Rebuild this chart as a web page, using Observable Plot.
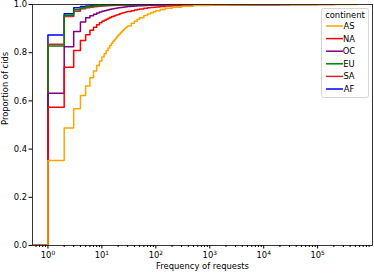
<!DOCTYPE html>
<html>
<head>
<meta charset="utf-8">
<script src="https://cdn.jsdelivr.net/npm/d3@7"></script>
<script src="https://cdn.jsdelivr.net/npm/@observablehq/plot@0.6"></script>
<style>
  html, body { margin: 0; padding: 0; background: #fff; }
  #chart { width: 374px; height: 273px; }
</style>
</head>
<body>
<div id="chart"></div>
<script>
// ---- data ----
const continents = ["AS", "NA", "OC", "EU", "SA", "AF"];
const colors = ["#ffa500", "#ff0000", "#800080", "#008000", "#d62728", "#0000ff"];
const drawOrder = ["AF", "SA", "EU", "OC", "NA", "AS"];

const freq = [1,2,3,4,5,6,7,8,9,10,11,12,13,14,15,16,17,18,19,20,21,22,23,24,25,26,27,28,29,30,
  35,40,45,50,60,70,80,90,100,120,150,200,300,500,1000,2000,5000,10000];

const ecdfAS = [.353,.488,.567,.622,.662,.696,.724,.747,.766,.782,
  .796,.809,.820,.830,.839,.847,.854,.861,.867,.873,
  .878,.883,.887,.891,.895,.899,.902,.905,.908,.911,
  .922,.931,.939,.945,.954,.961,.966,.970,.974,.979,.984,.989,.993,.996,.998,.999,.9995,.9997];
const ecdfNA = [.574,.740,.809,.851,.875,.893,.906,.916,.924,.930,
  .935,.939,.943,.946,.949,.951,.953,.955,.957,.959,
  .961,.963,.964,.965,.966,.967,.968,.969,.970,.971,
  .974,.977,.979,.981,.984,.987,.988,.989,.990,.992,.994,.995,.997,.998,.999,.9995,.9997,.9998];
const ecdfOC = [.632,.825,.888,.927,.945,.953,.960,.965,.969,.972,
  .974,.976,.978,.980,.981,.982,.983,.984,.985,.986,
  .987,.988,.988,.989,.989,.990,.990,.991,.991,.992,
  .993,.994,.995,.995,.996,.997,.997,.998,.998,.998,.999,.999,.9995,.9997,.9998,.9999,.9999,1];
const ecdfEU = [.828,.955,.978,.987,.991,.993,.994,.995,.996,.996,
  .997,.997,.997,.998,.998,.998,.998,.998,.998,.999,
  .999,.999,.999,.999,.999,.999,.999,.999,.999,.999,
  .999,.999,.9993,.9993,.9995,.9995,.9996,.9996,.9997,.9997,.9998,.9998,.9999,.9999,.9999,1,1,1];
const ecdfSA = [.835,.950,.972,.982,.986,.989,.991,.992,.993,.994,
  .994,.995,.995,.996,.996,.996,.997,.997,.997,.997,
  .997,.998,.998,.998,.998,.998,.998,.998,.998,.998,
  .999,.999,.999,.999,.9993,.9995,.9995,.9996,.9996,.9997,.9998,.9998,.9999,.9999,1,1,1,1];
const ecdfAF = [.873,.962,.986,.992,.994,.995,.996,.997,.997,.998,
  .998,.998,.998,.998,.999,.999,.999,.999,.999,.999,
  .999,.999,.999,.999,.999,.999,.999,.999,.999,.999,
  .9993,.9993,.9995,.9995,.9996,.9996,.9997,.9997,.9998,.9998,.9999,.9999,1,1,1,1,1,1];
const maxFreq = {AS: 540000, NA: 200000, OC: 30000, EU: 100000, SA: 20000, AF: 20000};
const belowMin = 0.1; // ECDF starts at 0 left of the smallest value

const xDomain = [0.517, 1.04e6];
const yTicks = [0, 0.2, 0.4, 0.6, 0.8, 1.0];
const xTicks = [1, 10, 100, 1000, 10000, 100000];
const xMinor = [];
for (let e = -1; e <= 6; e++) for (let m = 2; m <= 9; m++) {
  const v = m * Math.pow(10, e);
  if (v >= xDomain[0] && v <= xDomain[1]) xMinor.push(v);
}

// ---- build rows ----
const series = {AS: ecdfAS, NA: ecdfNA, OC: ecdfOC, EU: ecdfEU, SA: ecdfSA, AF: ecdfAF};
function rowsFor(c) {
  const r = [{x: belowMin, y: 0, c}];
  freq.forEach((f, i) => r.push({x: f, y: series[c][i], c}));
  r.push({x: maxFreq[c], y: 1, c});
  return r;
}
const colorOf = Object.fromEntries(continents.map((c, i) => [c, colors[i]]));
const expOf = d => String(Math.round(Math.log10(d)));

const FS = 8.4;
const chart = Plot.plot({
  width: 374,
  height: 273,
  marginLeft: 32,
  marginRight: 2,
  marginTop: 4,
  marginBottom: 28,
  style: {fontFamily: "DejaVu Sans", fontSize: FS + "px", color: "#000", background: "#fff"},
  x: {type: "log", domain: xDomain},
  y: {domain: [0, 1]},
  marks: [
    ...drawOrder.map(c => Plot.line(rowsFor(c), {
      x: "x", y: "y", stroke: colorOf[c], strokeWidth: 1.5, curve: "step-after", clip: true
    })),
    Plot.frame({stroke: "#222", strokeWidth: 0.9}),
    Plot.axisY({ticks: yTicks, tickFormat: d3.format(".1f"), tickSize: 3.5, tickPadding: 2, label: null, fontSize: FS}),
    Plot.axisX({ticks: xTicks, tickFormat: d => "10^" + expOf(d), tickSize: 3.5, tickPadding: 3, label: null, fontSize: FS}),
    Plot.axisX({ticks: xMinor, tickFormat: () => "", tickSize: 2, label: null}),
    Plot.text(["Frequency of requests"], {frameAnchor: "bottom", dy: 23, fontSize: FS}),
    Plot.text(["Proportion of cids"], {frameAnchor: "left", dx: -27, rotate: -90, fontSize: FS})
  ]
});
document.getElementById("chart").appendChild(chart);

const svg = d3.select(chart);
// render "10^n" tick labels as 10 with a superscript exponent
svg.selectAll("text").each(function () {
  const t = d3.select(this);
  const s = t.text();
  const m = /^10\^(-?\d+)$/.exec(s);
  if (!m) return;
  t.text("");
  t.append("tspan").text("10");
  t.append("tspan").attr("dy", "-0.45em").attr("font-size", (FS * 0.7).toFixed(2) + "px").text(m[1]);
});

// ---- legend ----
const lg = svg.append("g").attr("font-family", "DejaVu Sans").attr("font-size", FS);
lg.append("rect").attr("x", 321.5).attr("y", 8.5).attr("width", 47).attr("height", 89)
  .attr("rx", 2).attr("fill", "#fff").attr("fill-opacity", 0.8).attr("stroke", "#ccc").attr("stroke-width", 0.8);
lg.append("text").attr("x", 345).attr("y", 15).attr("dy", "0.35em").attr("text-anchor", "middle").text("continent");
continents.forEach((c, i) => {
  const y = 26 + i * 12.6;
  lg.append("line").attr("x1", 326).attr("x2", 343).attr("y1", y).attr("y2", y)
    .attr("stroke", colors[i]).attr("stroke-width", 1.5);
  lg.append("text").attr("x", 349).attr("y", y).attr("dy", "0.35em").text(c);
});
</script>
</body>
</html>
